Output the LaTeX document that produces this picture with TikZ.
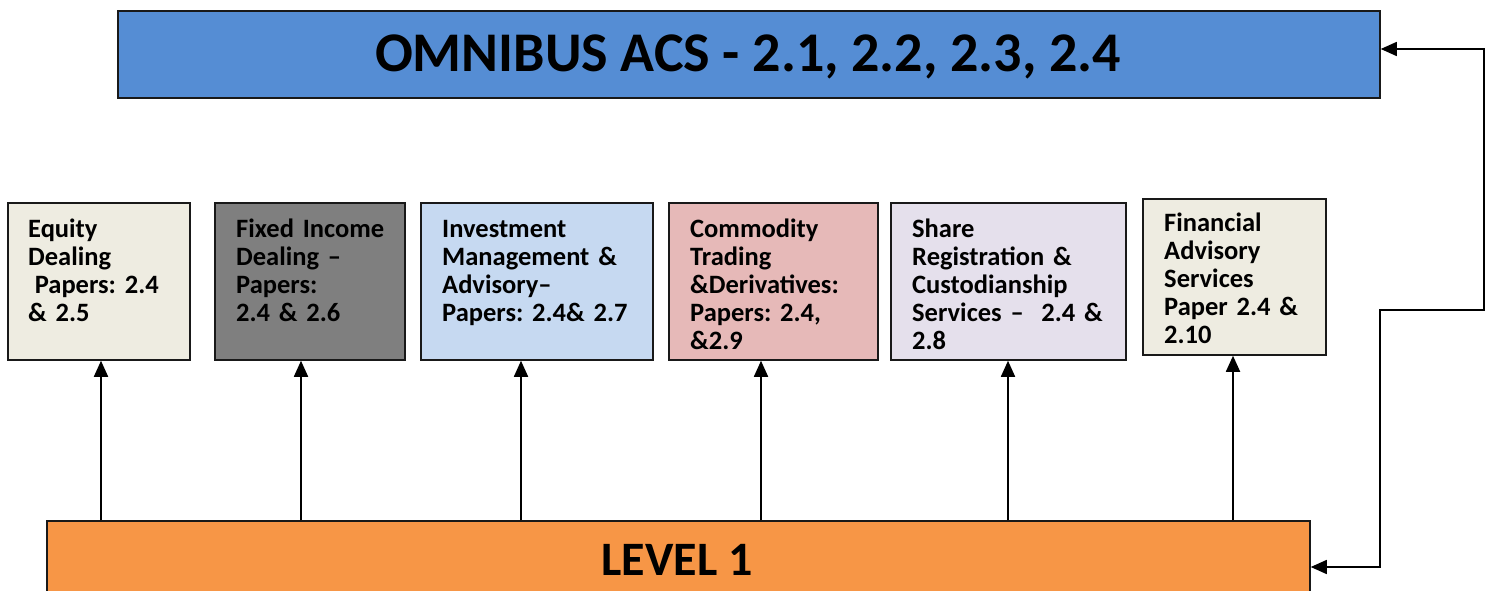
\documentclass[tikz,border=0pt]{standalone}
\usepackage{fontspec}
\setmainfont{Carlito}
\frenchspacing
\usetikzlibrary{arrows.meta}
\definecolor{topblue}{HTML}{558DD4}
\definecolor{lvlorange}{HTML}{F79646}
\definecolor{cream}{HTML}{EEECE1}
\definecolor{midgray}{HTML}{7F7F7F}
\definecolor{paleblue}{HTML}{C6D9F1}
\definecolor{palered}{HTML}{E6B9B8}
\definecolor{palelilac}{HTML}{E5E0EC}
\begin{document}
\begin{tikzpicture}[x=1pt,y=-1pt,
  box/.style={draw=black!90,line width=1.5pt,inner sep=0pt},
  lbl/.style={anchor=base west,inner sep=0pt,text width=#1,align=left,
    font=\fontsize{26.5}{28}\selectfont\bfseries},
  head/.style={anchor=base,inner sep=0pt,font=\fontsize{#1}{#1}\selectfont\bfseries},
  tip/.tip={Triangle[length=16pt,width=14pt]},
  conn/.style={line width=1.7pt,-tip},
  link/.style={line width=1.5pt,tip-tip}]
\useasboundingbox (0,0) rectangle (1490,591);

% main bars
\node[box,fill=topblue,minimum width=1262pt,minimum height=87pt] (top) at (749,54.5) {};
\node[head=56] (toptxt) at (748,72) {OMNIBUS ACS - 2.1, 2.2, 2.3, 2.4};
\node[box,fill=lvlorange,minimum width=1263pt,minimum height=79pt] (lvl) at (678.5,560.5) {};
\node[head=48] (lvltxt) at (677,575) {LEVEL 1};

% service boxes
\node[box,fill=cream,minimum width=182pt,minimum height=157pt] (b1) at (99,281.5) {};
\node[box,fill=midgray,minimum width=190pt,minimum height=157pt] (b2) at (310,281.5) {};
\node[box,fill=paleblue,minimum width=232pt,minimum height=157pt] (b3) at (537,281.5) {};
\node[box,fill=palered,minimum width=209pt,minimum height=157pt] (b4) at (773.5,281.5) {};
\node[box,fill=palelilac,minimum width=235pt,minimum height=157pt] (b5) at (1008.5,281.5) {};
\node[box,fill=cream,minimum width=183pt,minimum height=156pt] (b6) at (1234.5,277) {};

\node[lbl=170pt] (t1) at (28,237) {Equity\\Dealing\\\hspace{0.25em}Papers: 2.4\\\& 2.5};
\node[lbl=170pt] (t2) at (236,237) {Fixed Income\\Dealing --\\Papers:\\2.4 \& 2.6};
\node[lbl=210pt] (t3) at (442,237) {Investment\\Management \&\\Advisory--\\Papers: 2.4\& 2.7};
\node[lbl=190pt] (t4) at (690,237) {Commodity\\Trading\\\&Derivatives:\\Papers: 2.4,\\\&2.9};
\node[lbl=215pt] (t5) at (912,237) {Share\\Registration \&\\Custodianship\\Services --\ \ 2.4 \&\\2.8};
\node[lbl=165pt] (t6) at (1164,231) {Financial\\Advisory\\Services\\Paper 2.4 \&\\2.10};

% arrows up from LEVEL 1
\coordinate (a1) at ([xshift=2pt]b1.south);
\coordinate (a2) at ([xshift=-9pt]b2.south);
\coordinate (a3) at ([xshift=-16pt]b3.south);
\coordinate (a4) at ([xshift=-12.5pt]b4.south);
\coordinate (a5) at ([xshift=-0.5pt]b5.south);
\coordinate (a6) at ([xshift=-1.5pt]b6.south);
\foreach \a in {a1,a2,a3,a4,a5,a6}
  \draw[conn] (\a |- lvl.north) -- (\a);

% return link between the two bars
\coordinate (e1) at ([yshift=-6.5pt]lvl.east);
\coordinate (e2) at ([yshift=5.5pt]top.east);
\draw[link] (e1) -| (1380,310) -| (1484,49) -- (e2);
\end{tikzpicture}
\end{document}
